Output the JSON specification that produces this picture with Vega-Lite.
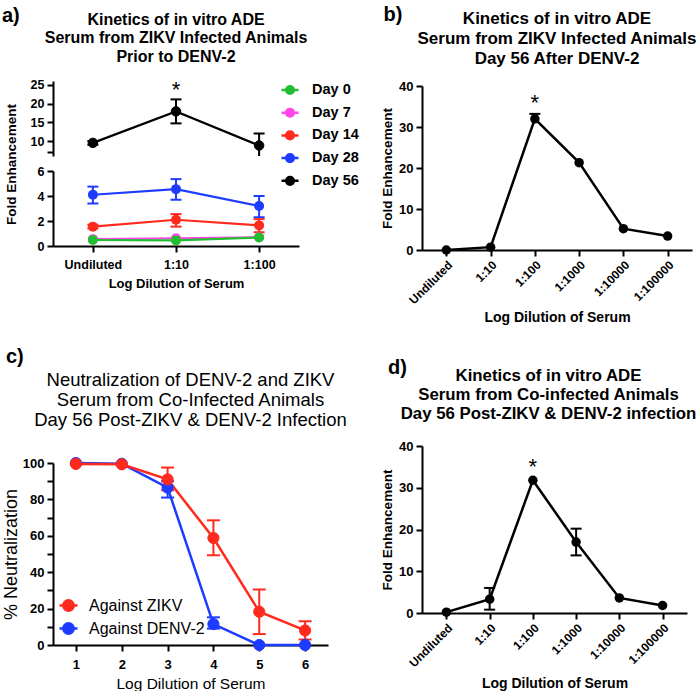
{
  "$schema": "https://vega.github.io/schema/vega-lite/v6.json",
  "background": "white",
  "padding": {"left": 2, "top": 5, "right": 0, "bottom": 0},
  "config": {
    "view": {"stroke": null},
    "font": "Liberation Sans",
    "axis": {"domainColor": "black", "domainWidth": 2, "tickColor": "black", "tickWidth": 2, "tickSize": 6, "labelColor": "black", "labelFont": "Liberation Sans", "labelFontWeight": "bold", "labelFontSize": 12.5, "titleFont": "Liberation Sans", "titleFontWeight": "bold", "titleFontSize": 13, "titleColor": "black", "grid": false, "labelPadding": 3, "labelOverlap": false},
    "title": {"font": "Liberation Sans", "color": "black", "fontWeight": "bold"},
    "legend": {"labelFont": "Liberation Sans", "labelColor": "black"}
  },
  "datasets": {
    "a": [
      {"day": "Day 56", "dil": "Undiluted", "v": 9.5, "lo": 9.0, "hi": 10.0},
      {"day": "Day 56", "dil": "1:10", "v": 17.9, "lo": 14.7, "hi": 21.1},
      {"day": "Day 56", "dil": "1:100", "v": 8.8, "lo": 5.6, "hi": 12.0},
      {"day": "Day 28", "dil": "Undiluted", "v": 4.1, "lo": 3.4, "hi": 4.75},
      {"day": "Day 28", "dil": "1:10", "v": 4.55, "lo": 3.7, "hi": 5.35},
      {"day": "Day 28", "dil": "1:100", "v": 3.2, "lo": 2.3, "hi": 4.0},
      {"day": "Day 14", "dil": "Undiluted", "v": 1.55, "lo": 1.4, "hi": 1.7},
      {"day": "Day 14", "dil": "1:10", "v": 2.1, "lo": 1.55, "hi": 2.55},
      {"day": "Day 14", "dil": "1:100", "v": 1.65, "lo": 1.1, "hi": 2.15},
      {"day": "Day 7", "dil": "Undiluted", "v": 0.55},
      {"day": "Day 7", "dil": "1:10", "v": 0.62},
      {"day": "Day 7", "dil": "1:100", "v": 0.7},
      {"day": "Day 0", "dil": "Undiluted", "v": 0.48},
      {"day": "Day 0", "dil": "1:10", "v": 0.45},
      {"day": "Day 0", "dil": "1:100", "v": 0.68}
    ],
    "b": [
      {"dil": "Undiluted", "v": 0.0},
      {"dil": "1:10", "v": 0.7},
      {"dil": "1:100", "v": 32.0, "lo": 31.0, "hi": 33.2},
      {"dil": "1:1000", "v": 21.3},
      {"dil": "1:10000", "v": 5.2},
      {"dil": "1:100000", "v": 3.4}
    ],
    "c": [
      {"s": "Against DENV-2", "x": 1, "v": 100.0},
      {"s": "Against DENV-2", "x": 2, "v": 99.6},
      {"s": "Against DENV-2", "x": 3, "v": 86.5, "lo": 81.0, "hi": 90.0},
      {"s": "Against DENV-2", "x": 4, "v": 11.5, "lo": 9.0, "hi": 15.2},
      {"s": "Against DENV-2", "x": 5, "v": 0.0},
      {"s": "Against DENV-2", "x": 6, "v": 0.0},
      {"s": "Against ZIKV", "x": 1, "v": 99.5},
      {"s": "Against ZIKV", "x": 2, "v": 99.3},
      {"s": "Against ZIKV", "x": 3, "v": 91.0, "lo": 85.0, "hi": 97.5},
      {"s": "Against ZIKV", "x": 4, "v": 58.8, "lo": 49.3, "hi": 68.5},
      {"s": "Against ZIKV", "x": 5, "v": 18.3, "lo": 6.0, "hi": 30.5},
      {"s": "Against ZIKV", "x": 6, "v": 8.0, "lo": 3.0, "hi": 13.0}
    ],
    "d": [
      {"dil": "Undiluted", "v": 0.2},
      {"dil": "1:10", "v": 3.3, "lo": 0.8, "hi": 6.0},
      {"dil": "1:100", "v": 31.8},
      {"dil": "1:1000", "v": 17.0, "lo": 13.8, "hi": 20.2},
      {"dil": "1:10000", "v": 3.6},
      {"dil": "1:100000", "v": 1.8}
    ]
  },
  "hconcat": [
    {
      "title": {"text": "a)", "anchor": "start", "frame": "bounds", "fontSize": 20, "fontWeight": "bold", "offset": -14},
      "vconcat": [
        {
          "width": 246, "height": 75,
          "title": {"text": ["Kinetics of in vitro ADE", "Serum from ZIKV Infected Animals", "Prior to DENV-2"], "fontSize": 16, "lineHeight": 18.5, "offset": 14, "anchor": "middle"},
          "data": {"name": "a"},
          "transform": [{"filter": "datum.day === 'Day 56'"}],
          "encoding": {
            "x": {"field": "dil", "type": "ordinal", "sort": ["Undiluted", "1:10", "1:100"], "scale": {"type": "point", "padding": 0.48}, "axis": null}
          },
          "layer": [
            {"mark": {"type": "line", "strokeWidth": 2.2, "clip": true},
             "encoding": {
               "y": {"field": "v", "type": "quantitative", "scale": {"domain": [7, 25]}, "axis": {"title": null, "values": [7, 10, 15, 20, 25], "tickCount": 5, "labelExpr": "datum.value === 7 ? '' : datum.label", "labelOverlap": false}},
               "color": {"field": "day", "type": "nominal", "scale": {"domain": ["Day 0", "Day 7", "Day 14", "Day 28", "Day 56"], "range": ["#22be32", "#ff46e8", "#ff2a1e", "#1e3cff", "#000000"]}}
             }},
            {"transform": [{"filter": "isValid(datum.lo)"}], "mark": {"type": "rule", "strokeWidth": 2, "clip": true, "opacity": 1},
             "encoding": {"y": {"field": "lo", "type": "quantitative"}, "y2": {"field": "hi"}, "color": {"field": "day", "type": "nominal"}}},
            {"transform": [{"filter": "isValid(datum.lo)"}], "mark": {"type": "tick", "orient": "horizontal", "size": 11, "thickness": 2, "clip": true, "opacity": 1},
             "encoding": {"y": {"field": "lo", "type": "quantitative"}, "color": {"field": "day", "type": "nominal"}}},
            {"transform": [{"filter": "isValid(datum.lo)"}], "mark": {"type": "tick", "orient": "horizontal", "size": 11, "thickness": 2, "clip": true, "opacity": 1},
             "encoding": {"y": {"field": "hi", "type": "quantitative"}, "color": {"field": "day", "type": "nominal"}}},
            {"mark": {"type": "point", "filled": true, "size": 90, "opacity": 1, "strokeWidth": 1},
             "encoding": {
               "y": {"field": "v", "type": "quantitative"},
               "color": {"field": "day", "type": "nominal", "legend": {"title": null, "orient": "none", "legendX": 227, "legendY": -1, "symbolType": "M-1,0H1M0.45,0A0.45,0.45,0,1,1,-0.45,0A0.45,0.45,0,1,1,0.45,0Z", "symbolSize": 289, "symbolStrokeWidth": 2.5, "symbolOpacity": 1, "labelFontSize": 14.5, "labelFontWeight": "bold", "labelOffset": 12, "rowPadding": 3.7}},
               "stroke": {"field": "day", "type": "nominal", "scale": {"domain": ["Day 0", "Day 7", "Day 14", "Day 28", "Day 56"], "range": ["#22be32", "#ff46e8", "#ff2a1e", "#1e3cff", "#000000"]}, "legend": {"title": null, "orient": "none", "legendX": 227, "legendY": -1, "symbolType": "M-1,0H1M0.45,0A0.45,0.45,0,1,1,-0.45,0A0.45,0.45,0,1,1,0.45,0Z", "symbolSize": 289, "symbolStrokeWidth": 2.5, "symbolOpacity": 1, "labelFontSize": 14.5, "labelFontWeight": "bold", "labelOffset": 12, "rowPadding": 3.7}}
             }},
            {"data": {"values": [{"dil": "1:10", "y": 24, "t": "*"}]},
             "mark": {"type": "text", "fontSize": 22, "font": "Liberation Sans", "baseline": "middle", "dy": 1, "color": "black"},
             "encoding": {"y": {"field": "y", "type": "quantitative"}, "text": {"field": "t"}}}
          ]
        },
        {
          "width": 246, "height": 75,
          "data": {"name": "a"},
          "transform": [{"filter": "datum.day !== 'Day 56'"}],
          "encoding": {
            "x": {"field": "dil", "type": "ordinal", "sort": ["Undiluted", "1:10", "1:100"], "scale": {"type": "point", "padding": 0.48}, "axis": {"title": "Log Dilution of Serum", "labelAngle": 0, "labelPadding": 6, "titlePadding": 7}}
          },
          "layer": [
            {"mark": {"type": "line", "strokeWidth": 2.2},
             "encoding": {
               "y": {"field": "v", "type": "quantitative", "scale": {"domain": [0, 6]}, "axis": {"title": "Fold  Enhancement", "values": [0, 2, 4, 6], "tickCount": 4, "titleY": -7, "titleX": -35, "titleFontSize": 13.5, "labelOverlap": false}},
               "color": {"field": "day", "type": "nominal", "scale": {"domain": ["Day 0", "Day 7", "Day 14", "Day 28", "Day 56"], "range": ["#22be32", "#ff46e8", "#ff2a1e", "#1e3cff", "#000000"]}, "legend": null}
             }},
            {"transform": [{"filter": "isValid(datum.lo)"}], "mark": {"type": "rule", "strokeWidth": 2, "opacity": 1},
             "encoding": {"y": {"field": "lo", "type": "quantitative"}, "y2": {"field": "hi"}, "color": {"field": "day", "type": "nominal", "legend": null}}},
            {"transform": [{"filter": "isValid(datum.lo)"}], "mark": {"type": "tick", "orient": "horizontal", "size": 11, "thickness": 2, "opacity": 1},
             "encoding": {"y": {"field": "lo", "type": "quantitative"}, "color": {"field": "day", "type": "nominal", "legend": null}}},
            {"transform": [{"filter": "isValid(datum.lo)"}], "mark": {"type": "tick", "orient": "horizontal", "size": 11, "thickness": 2, "opacity": 1},
             "encoding": {"y": {"field": "hi", "type": "quantitative"}, "color": {"field": "day", "type": "nominal", "legend": null}}},
            {"mark": {"type": "point", "filled": true, "size": 100, "opacity": 1},
             "encoding": {"y": {"field": "v", "type": "quantitative"}, "color": {"field": "day", "type": "nominal", "legend": null}}}
          ]
        },
        {
          "width": 246, "height": 187,
          "title": {"text": "c)", "anchor": "start", "frame": "group", "fontSize": 20, "fontWeight": "bold", "offset": -106, "dx": -47},
          "data": {"values": []},
          "mark": {"type": "point"}
        },
        {
          "width": 275, "height": 182,
          "title": {"text": ["Neutralization of DENV-2 and ZIKV", "Serum from Co-Infected Animals", "Day 56 Post-ZIKV & DENV-2 Infection"], "fontSize": 18.5, "fontWeight": "normal", "lineHeight": 20, "offset": 26, "anchor": "middle"},
          "data": {"name": "c"},
          "encoding": {
            "x": {"field": "x", "type": "quantitative", "scale": {"domain": [0.5, 6.5]}, "axis": {"title": "Log Dilution of Serum", "values": [1, 2, 3, 4, 5, 6], "tickCount": 6, "titleFontWeight": "normal", "titleFontSize": 15.5, "labelFontSize": 13, "labelPadding": 7, "titlePadding": 5}}
          },
          "layer": [
            {"data": {"values": [{"ref": 50}]}, "mark": {"type": "rule", "color": "#9a9a9a", "strokeWidth": 1.2},
             "encoding": {"y": {"field": "ref", "type": "quantitative"}}},
            {"mark": {"type": "line", "strokeWidth": 2.5},
             "encoding": {
               "y": {"field": "v", "type": "quantitative", "scale": {"domain": [0, 100]}, "axis": {"title": "% Neutralization", "values": [0, 10, 20, 30, 40, 50, 60, 70, 80, 90, 100], "tickCount": 11, "labelExpr": "datum.value % 20 === 0 ? datum.label : ''", "labelOverlap": false, "titleFontWeight": "normal", "titleFontSize": 18, "labelFontSize": 13, "titleX": -33}},
               "color": {"field": "s", "type": "nominal", "scale": {"domain": ["Against ZIKV", "Against DENV-2"], "range": ["#ff2a1e", "#1e3cff"]}}
             }},
            {"transform": [{"filter": "isValid(datum.lo)"}], "mark": {"type": "rule", "strokeWidth": 2, "opacity": 1},
             "encoding": {"y": {"field": "lo", "type": "quantitative"}, "y2": {"field": "hi"}, "color": {"field": "s", "type": "nominal"}}},
            {"transform": [{"filter": "isValid(datum.lo)"}], "mark": {"type": "tick", "orient": "horizontal", "size": 13, "thickness": 2, "opacity": 1},
             "encoding": {"y": {"field": "lo", "type": "quantitative"}, "color": {"field": "s", "type": "nominal"}}},
            {"transform": [{"filter": "isValid(datum.lo)"}], "mark": {"type": "tick", "orient": "horizontal", "size": 13, "thickness": 2, "opacity": 1},
             "encoding": {"y": {"field": "hi", "type": "quantitative"}, "color": {"field": "s", "type": "nominal"}}},
            {"mark": {"type": "point", "filled": true, "size": 125, "opacity": 1, "strokeWidth": 1},
             "encoding": {
               "y": {"field": "v", "type": "quantitative"},
               "color": {"field": "s", "type": "nominal", "legend": {"title": null, "orient": "none", "legendX": 5, "legendY": 132, "symbolType": "M-1,0H1M0.58,0A0.58,0.58,0,1,1,-0.58,0A0.58,0.58,0,1,1,0.58,0Z", "symbolSize": 324, "symbolStrokeWidth": 2.5, "symbolOpacity": 1, "labelFontSize": 16, "labelFontWeight": "normal", "labelOffset": 10, "rowPadding": 2}},
               "stroke": {"field": "s", "type": "nominal", "scale": {"domain": ["Against ZIKV", "Against DENV-2"], "range": ["#ff2a1e", "#1e3cff"]}, "legend": {"title": null, "orient": "none", "legendX": 5, "legendY": 132, "symbolType": "M-1,0H1M0.58,0A0.58,0.58,0,1,1,-0.58,0A0.58,0.58,0,1,1,0.58,0Z", "symbolSize": 324, "symbolStrokeWidth": 2.5, "symbolOpacity": 1, "labelFontSize": 16, "labelFontWeight": "normal", "labelOffset": 10, "rowPadding": 2}}
             }}
          ]
        }
      ],
      "spacing": 15,
      "bounds": "flush",
      "resolve": {"scale": {"color": "independent", "stroke": "independent"}, "legend": {"color": "independent", "stroke": "independent"}}
    },
    {
      "title": {"text": "b)", "anchor": "start", "frame": "bounds", "fontSize": 20, "fontWeight": "bold", "offset": -15, "dx": 3},
      "vconcat": [
        {
          "width": 270, "height": 1,
          "data": {"values": []},
          "mark": {"type": "point"}
        },
        {
          "width": 270, "height": 164,
          "title": {"text": ["Kinetics of in vitro ADE", "Serum from ZIKV Infected Animals", "Day 56 After DENV-2"], "fontSize": 17, "lineHeight": 20, "offset": 12, "anchor": "middle"},
          "data": {"name": "b"},
          "encoding": {
            "x": {"field": "dil", "type": "ordinal", "sort": ["Undiluted", "1:10", "1:100", "1:1000", "1:10000", "1:100000"], "scale": {"type": "point", "padding": 0.55}, "axis": {"title": "Log Dilution of Serum", "labelAngle": -45, "labelFontSize": 12, "titleFontSize": 14, "titlePadding": 5}}
          },
          "layer": [
            {"mark": {"type": "line", "strokeWidth": 2.5, "color": "black"},
             "encoding": {"y": {"field": "v", "type": "quantitative", "scale": {"domain": [0, 40]}, "axis": {"title": "Fold  Enhancement", "values": [0, 10, 20, 30, 40], "tickCount": 5, "labelFontSize": 13, "titleFontSize": 13.5}}}},
            {"transform": [{"filter": "isValid(datum.lo)"}], "mark": {"type": "rule", "strokeWidth": 2, "color": "black", "opacity": 1},
             "encoding": {"y": {"field": "lo", "type": "quantitative"}, "y2": {"field": "hi"}}},
            {"transform": [{"filter": "isValid(datum.lo)"}], "mark": {"type": "tick", "orient": "horizontal", "size": 11, "thickness": 2, "color": "black", "opacity": 1},
             "encoding": {"y": {"field": "hi", "type": "quantitative"}}},
            {"mark": {"type": "point", "filled": true, "size": 90, "opacity": 1, "color": "black"},
             "encoding": {"y": {"field": "v", "type": "quantitative"}}},
            {"data": {"values": [{"dil": "1:100", "y": 36.5, "t": "*"}]},
             "mark": {"type": "text", "fontSize": 22, "font": "Liberation Sans", "baseline": "middle", "dy": 3, "color": "black"},
             "encoding": {"y": {"field": "y", "type": "quantitative"}, "text": {"field": "t"}}}
          ]
        },
        {
          "width": 265, "height": 188,
          "title": {"text": "d)", "anchor": "start", "frame": "group", "fontSize": 20, "fontWeight": "bold", "offset": -124, "dx": -34},
          "data": {"values": []},
          "mark": {"type": "point"}
        },
        {
          "width": 265, "height": 167,
          "title": {"text": ["Kinetics of in vitro ADE", "Serum from Co-infected Animals", "Day 56 Post-ZIKV & DENV-2 infection"], "fontSize": 16.8, "lineHeight": 19, "offset": 17, "anchor": "middle", "dx": -6},
          "data": {"name": "d"},
          "encoding": {
            "x": {"field": "dil", "type": "ordinal", "sort": ["Undiluted", "1:10", "1:100", "1:1000", "1:10000", "1:100000"], "scale": {"type": "point", "padding": 0.565}, "axis": {"title": "Log Dilution of Serum", "labelAngle": -45, "labelFontSize": 12, "titleFontSize": 14, "titlePadding": 8}}
          },
          "layer": [
            {"mark": {"type": "line", "strokeWidth": 2.5, "color": "black"},
             "encoding": {"y": {"field": "v", "type": "quantitative", "scale": {"domain": [0, 40]}, "axis": {"title": "Fold  Enhancement", "values": [0, 10, 20, 30, 40], "tickCount": 5, "labelFontSize": 13, "titleFontSize": 13.5}}}},
            {"transform": [{"filter": "isValid(datum.lo)"}], "mark": {"type": "rule", "strokeWidth": 2, "color": "black", "opacity": 1},
             "encoding": {"y": {"field": "lo", "type": "quantitative"}, "y2": {"field": "hi"}}},
            {"transform": [{"filter": "isValid(datum.lo)"}], "mark": {"type": "tick", "orient": "horizontal", "size": 11, "thickness": 2, "color": "black", "opacity": 1},
             "encoding": {"y": {"field": "lo", "type": "quantitative"}}},
            {"transform": [{"filter": "isValid(datum.lo)"}], "mark": {"type": "tick", "orient": "horizontal", "size": 11, "thickness": 2, "color": "black", "opacity": 1},
             "encoding": {"y": {"field": "hi", "type": "quantitative"}}},
            {"mark": {"type": "point", "filled": true, "size": 90, "opacity": 1, "color": "black"},
             "encoding": {"y": {"field": "v", "type": "quantitative"}}},
            {"data": {"values": [{"dil": "1:100", "y": 36.5, "t": "*"}]},
             "mark": {"type": "text", "fontSize": 22, "font": "Liberation Sans", "baseline": "middle", "dy": 6, "color": "black"},
             "encoding": {"y": {"field": "y", "type": "quantitative"}, "text": {"field": "t"}}}
          ]
        }
      ],
      "spacing": 4,
      "bounds": "flush"
    }
  ],
  "spacing": 21
}
